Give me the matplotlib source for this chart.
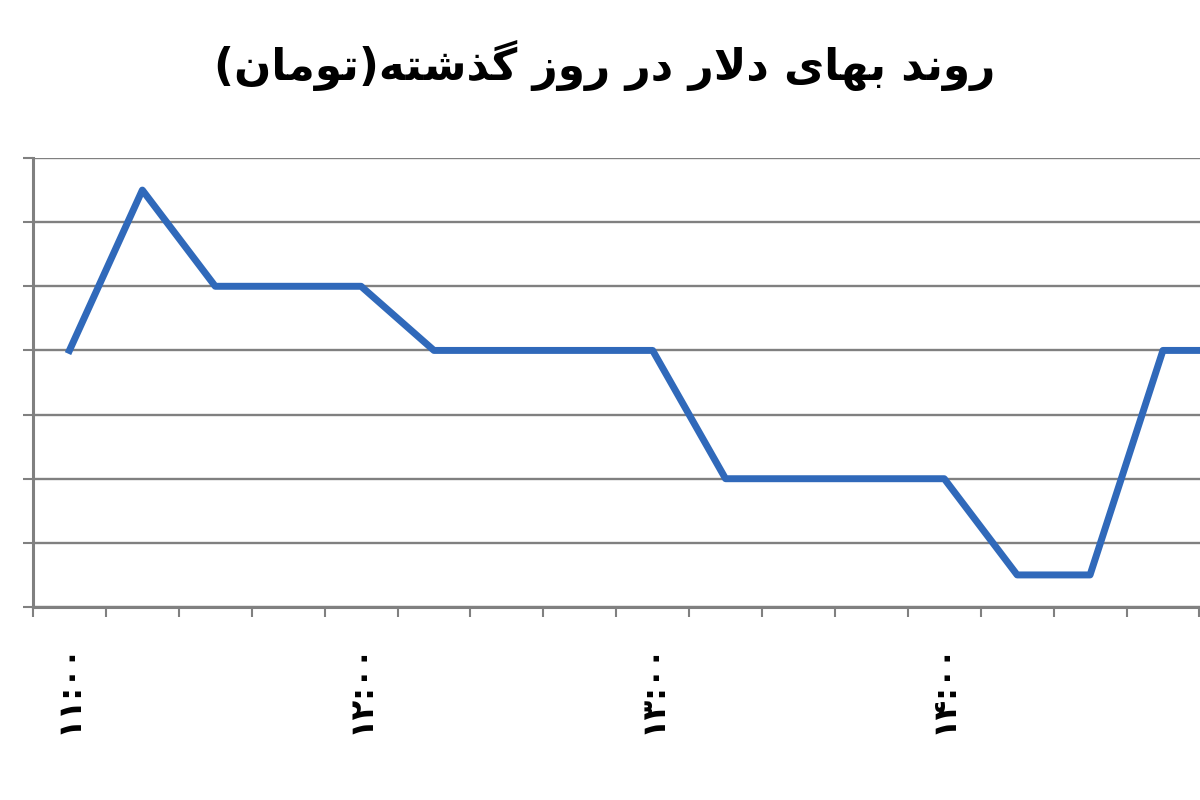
import numpy as np
import matplotlib
matplotlib.use('Agg')
import matplotlib.pyplot as plt

# data: 15 minute steps, price in toman
times = ['11:00', '11:15', '11:30', '11:45', '12:00', '12:15', '12:30', '12:45',
         '13:00', '13:15', '13:30', '13:45', '14:00', '14:15', '14:30', '14:45', '15:00']
prices = [3570, 3595, 3580, 3580, 3580, 3570, 3570, 3570,
          3570, 3550, 3550, 3550, 3550, 3535, 3535, 3570, 3570]
tick_labels = ['۱۱:۰۰', '۱۲:۰۰', '۱۳:۰۰', '۱۴:۰۰']
tick_pos = [0, 4, 8, 12]
y_grid = [3530, 3540, 3550, 3560, 3570, 3580, 3590, 3600]
title = 'روند بهای دلار در روز گذشته(تومان)'

# matplotlib does no arabic shaping, so do it by hand
FORMS = {
    'ا': ('\uFE8D', '\uFE8E', None, None),
    'ب': ('\uFE8F', '\uFE90', '\uFE91', '\uFE92'),
    'ت': ('\uFE95', '\uFE96', '\uFE97', '\uFE98'),
    'د': ('\uFEA9', '\uFEAA', None, None),
    'ذ': ('\uFEAB', '\uFEAC', None, None),
    'ر': ('\uFEAD', '\uFEAE', None, None),
    'ز': ('\uFEAF', '\uFEB0', None, None),
    'ش': ('\uFEB5', '\uFEB6', '\uFEB7', '\uFEB8'),
    'ل': ('\uFEDD', '\uFEDE', '\uFEDF', '\uFEE0'),
    'م': ('\uFEE1', '\uFEE2', '\uFEE3', '\uFEE4'),
    'ن': ('\uFEE5', '\uFEE6', '\uFEE7', '\uFEE8'),
    'ه': ('\uFEE9', '\uFEEA', '\uFEEB', '\uFEEC'),
    'و': ('\uFEED', '\uFEEE', None, None),
    'ی': ('\uFBFC', '\uFBFD', '\uFBFE', '\uFBFF'),
    'گ': ('\uFB92', '\uFB93', '\uFB94', '\uFB95'),
}


def dual(c):
    return c in FORMS and FORMS[c][2] is not None


def shape(s):
    out = []
    i = 0
    while i < len(s):
        c = s[i]
        if c not in FORMS:
            out.append(c)
            i += 1
            continue
        prev = s[i - 1] if i > 0 else ''
        nxt = s[i + 1] if i + 1 < len(s) else ''
        joined_prev = dual(prev)
        if c == 'ل' and nxt == 'ا':
            out.append('\uFEFC' if joined_prev else '\uFEFB')
            i += 2
            continue
        joined_next = dual(c) and nxt in FORMS
        iso, fin, ini, med = FORMS[c]
        if joined_prev and joined_next:
            out.append(med)
        elif joined_prev:
            out.append(fin)
        elif joined_next:
            out.append(ini)
        else:
            out.append(iso)
        i += 1
    vis = ''.join(reversed(out))
    return vis.translate(str.maketrans('()', ')('))


plt.rcParams['font.family'] = ['DejaVu Sans']

fig = plt.figure(figsize=(12, 8), dpi=100)
# plot area starts at x=33px; right part and y labels are cut off like the source
ax = fig.add_axes([33 / 1200, 193 / 800, 17 * 72.9 / 1200, 449 / 800])

x = np.arange(len(prices))
ax.plot(x, prices, color='#3069BA', lw=5, solid_joinstyle='round', zorder=3)

ax.set_xlim(-0.5, len(prices) - 0.5)
ax.set_ylim(y_grid[0], y_grid[-1])
ax.set_yticks(y_grid)
ax.grid(axis='y', color='#808080', lw=1.7)
ax.set_axisbelow(True)

ax.set_xticks(tick_pos)
ax.set_xticklabels(tick_labels, rotation=90, fontsize=23, fontweight='bold')
ax.set_xticks(np.arange(len(prices) + 1) - 0.5, minor=True)
ax.tick_params(axis='x', which='major', length=0, pad=26)
ax.tick_params(axis='x', which='minor', length=7, width=1.5, color='#808080', direction='out')
ax.tick_params(axis='y', length=7.5, width=1.5, color='#808080', labelleft=False)

for s in ['top', 'right']:
    ax.spines[s].set_visible(False)
for s in ['left', 'bottom']:
    ax.spines[s].set_color('#808080')
    ax.spines[s].set_linewidth(2.2)

fig.text(0.504, 0.918, shape(title), ha='center', va='center', fontsize=31.5, fontweight='bold')

fig.savefig('out.png', dpi=100)
